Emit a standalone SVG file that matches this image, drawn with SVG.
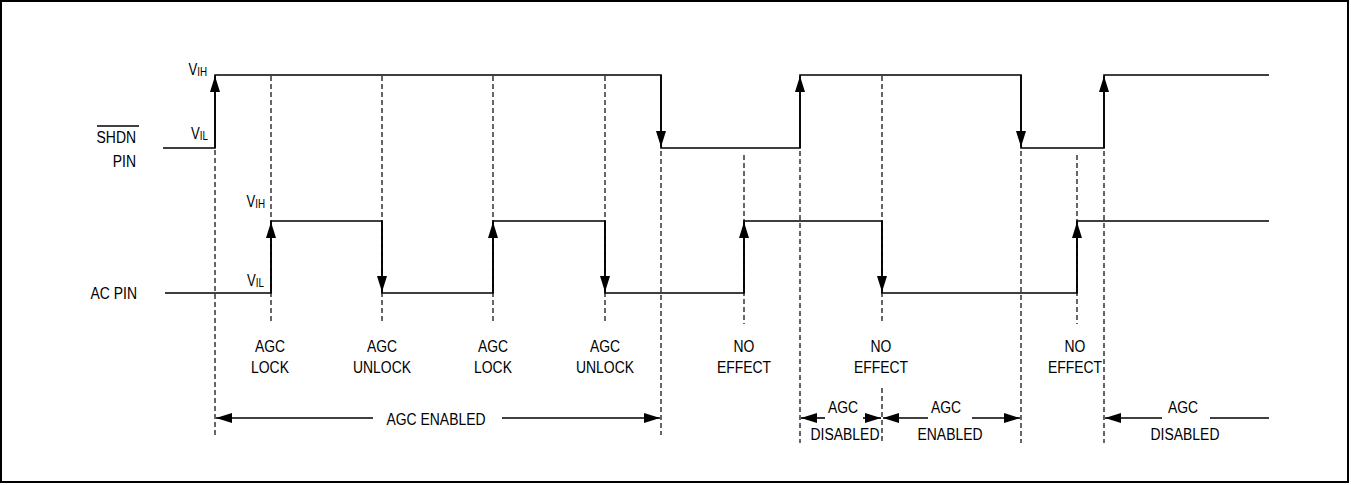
<svg xmlns="http://www.w3.org/2000/svg" width="1351" height="485" viewBox="0 0 1351 485">
<style>
.sig{fill:none;stroke:#000;stroke-width:1.6}
.tr{stroke:#000;stroke-width:1.6;marker-end:url(#ah)}
.dash{stroke:#000;stroke-width:1.2;stroke-dasharray:5 3}
.sp{stroke:#000;stroke-width:1.6}
.spa{stroke:#000;stroke-width:1.6;marker-end:url(#ah)}
text{font-family:"Liberation Sans",Arial,sans-serif;font-size:17px;fill:#000}
.v{font-size:16px}
.sub{font-size:12px}
</style>
<defs>
<marker id="ah" viewBox="0 0 16 10" refX="16" refY="5" markerWidth="16" markerHeight="10" markerUnits="userSpaceOnUse" orient="auto">
<path d="M0,0 L16,5 L0,10 Z" fill="#000"/>
</marker>
</defs>
<rect x="1" y="1" width="1347" height="481" fill="#fff" stroke="#000" stroke-width="2"/>

<g id="connectors">
<!-- dashed reference lines -->
<line class="dash" x1="215" y1="150" x2="215" y2="435"/>
<line class="dash" x1="271" y1="76" x2="271" y2="324"/>
<line class="dash" x1="382" y1="76" x2="382" y2="324"/>
<line class="dash" x1="493" y1="76" x2="493" y2="324"/>
<line class="dash" x1="605" y1="76" x2="605" y2="324"/>
<line class="dash" x1="661" y1="151" x2="661" y2="435"/>
<line class="dash" x1="744" y1="155" x2="744" y2="324"/>
<line class="dash" x1="800" y1="151" x2="800" y2="443"/>
<line class="dash" x1="882" y1="76" x2="882" y2="324"/>
<line class="dash" x1="882" y1="388" x2="882" y2="443"/>
<line class="dash" x1="1021" y1="151" x2="1021" y2="443"/>
<line class="dash" x1="1077" y1="155" x2="1077" y2="324"/>
<line class="dash" x1="1104" y1="151" x2="1104" y2="443"/>

<!-- SHDN signal -->
<polyline class="sig" points="163,148 215,148 215,75 661,75 661,148 800,148 800,75 1021,75 1021,148 1104,148 1104,75 1269,75"/>
<line class="tr" x1="215" y1="148" x2="215" y2="76"/>
<line class="tr" x1="661" y1="75" x2="661" y2="147"/>
<line class="tr" x1="800" y1="148" x2="800" y2="76"/>
<line class="tr" x1="1021" y1="75" x2="1021" y2="147"/>
<line class="tr" x1="1104" y1="148" x2="1104" y2="76"/>

<!-- AC signal -->
<polyline class="sig" points="165,293 271,293 271,221 382,221 382,293 493,293 493,221 605,221 605,293 744,293 744,221 882,221 882,293 1077,293 1077,221 1269,221"/>
<line class="tr" x1="271" y1="293" x2="271" y2="222"/>
<line class="tr" x1="382" y1="221" x2="382" y2="292"/>
<line class="tr" x1="493" y1="293" x2="493" y2="222"/>
<line class="tr" x1="605" y1="221" x2="605" y2="292"/>
<line class="tr" x1="744" y1="293" x2="744" y2="222"/>
<line class="tr" x1="882" y1="221" x2="882" y2="292"/>
<line class="tr" x1="1077" y1="293" x2="1077" y2="222"/>

<!-- span arrows -->
<line class="spa" x1="373" y1="418" x2="216" y2="418"/>
<line class="spa" x1="502" y1="418" x2="660" y2="418"/>
<line class="spa" x1="825" y1="418" x2="801" y2="418"/>
<line class="spa" x1="863" y1="418" x2="881" y2="418"/>
<line class="spa" x1="928" y1="418" x2="883" y2="418"/>
<line class="spa" x1="972" y1="418" x2="1020" y2="418"/>
<line class="spa" x1="1162" y1="418" x2="1105" y2="418"/>
<line class="sp" x1="1210" y1="418" x2="1269" y2="418"/>
</g>

<g id="shdn-pin">
<text transform="translate(136,143) scale(0.82,1)" text-anchor="end">SHDN</text>
<line x1="97" y1="126" x2="139" y2="126" stroke="#000" stroke-width="1.3"/>
<text transform="translate(136,167) scale(0.82,1)" text-anchor="end">PIN</text>
</g>
<g id="ac-pin">
<text transform="translate(137,299) scale(0.82,1)" text-anchor="end">AC PIN</text>
</g>

<g id="levels">
<text class="v" transform="translate(207,75) scale(0.82,1)" text-anchor="end">V<tspan class="sub" dy="1">IH</tspan></text>
<text class="v" transform="translate(208,139) scale(0.82,1)" text-anchor="end">V<tspan class="sub" dy="1">IL</tspan></text>
<text class="v" transform="translate(265,207) scale(0.82,1)" text-anchor="end">V<tspan class="sub" dy="1">IH</tspan></text>
<text class="v" transform="translate(264,286) scale(0.82,1)" text-anchor="end">V<tspan class="sub" dy="1">IL</tspan></text>
</g>

<g id="events">
<text transform="translate(270,352) scale(0.82,1)" text-anchor="middle">AGC<tspan x="0" dy="21">LOCK</tspan></text>
<text transform="translate(382,352) scale(0.82,1)" text-anchor="middle">AGC<tspan x="0" dy="21">UNLOCK</tspan></text>
<text transform="translate(493,352) scale(0.82,1)" text-anchor="middle">AGC<tspan x="0" dy="21">LOCK</tspan></text>
<text transform="translate(605,352) scale(0.82,1)" text-anchor="middle">AGC<tspan x="0" dy="21">UNLOCK</tspan></text>
<text transform="translate(744,352) scale(0.82,1)" text-anchor="middle">NO<tspan x="0" dy="21">EFFECT</tspan></text>
<text transform="translate(881,352) scale(0.82,1)" text-anchor="middle">NO<tspan x="0" dy="21">EFFECT</tspan></text>
<text transform="translate(1075,352) scale(0.82,1)" text-anchor="middle">NO<tspan x="0" dy="21">EFFECT</tspan></text>
</g>

<g id="spans">
<text transform="translate(436,425) scale(0.82,1)" text-anchor="middle">AGC ENABLED</text>
<text transform="translate(843,413) scale(0.82,1)" text-anchor="middle">AGC</text>
<text transform="translate(845,440) scale(0.82,1)" text-anchor="middle">DISABLED</text>
<text transform="translate(946,413) scale(0.82,1)" text-anchor="middle">AGC</text>
<text transform="translate(950,440) scale(0.82,1)" text-anchor="middle">ENABLED</text>
<text transform="translate(1183,413) scale(0.82,1)" text-anchor="middle">AGC</text>
<text transform="translate(1185,440) scale(0.82,1)" text-anchor="middle">DISABLED</text>
</g>
</svg>
